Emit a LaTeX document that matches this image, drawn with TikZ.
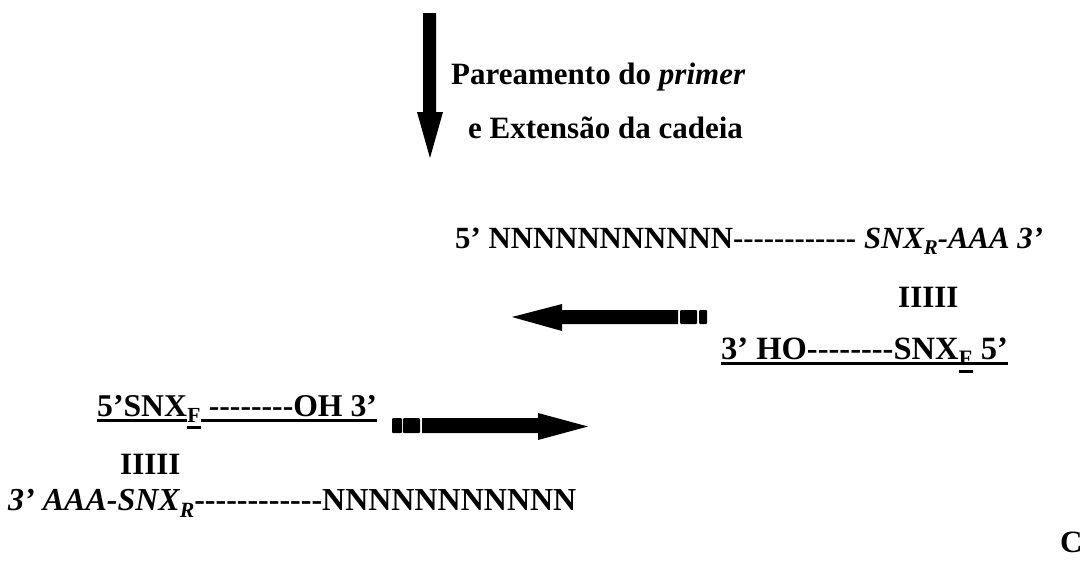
\documentclass[tikz,border=0pt]{standalone}
\usepackage{fontspec}
\setmainfont{Liberation Serif}[Ligatures=TeXOff]
\usepackage{graphicx}
% lowered, reduced-size index letter
\newcommand\dsub[1]{\raisebox{-0.22em}{\scalebox{0.68}{#1}}}
\tikzset{
  dna/.style={inner sep=0pt, anchor=base west, font=\fontsize{#1}{#1}\selectfont\bfseries},
  dna/.default=31,
  ul/.style={line width=3pt},
  ink/.style={fill=black, draw=none}
}
\begin{document}
\begin{tikzpicture}[x=1pt, y=-1pt]
\useasboundingbox (0,0) rectangle (1082,563);

% downward block arrow
\fill[ink] (423,13) -- (436,13) -- (436,112) -- (443,112) -- (430,158)
  -- (417,112) -- (423,112) -- cycle;
\node[dna=31] (t1) at (451,84) {Pareamento do \textit{primer}};
\node[dna=31] (t2) at (468,138) {e Extensão da cadeia};

% upper template strand
\node[dna=30.8] (top) at (455,248) {5’ NNNNNNNNNNN------------ \textit{SNX\dsub{R}-AAA 3’}};
\node[dna=31] (pr) at (898,307) {IIIII};

% reverse primer, extended leftwards
\node[dna=32.5] (ho1) at (721,359) {3’ HO--------SNX};
\node[dna=22] (hoF) at ([yshift=-6pt]ho1.base east) {F};
\node[dna=32.5] (ho2) at (hoF.base east |- ho1.base) {\ 5’};
\draw[ul] ([yshift=-4pt]ho1.base west) -- ([yshift=-4pt]ho2.base east);
\draw[ul] ([yshift=-6pt]hoF.base west) -- ([yshift=-6pt]hoF.base east);

\fill[ink] (512,317) -- (562,304) -- (562,310) -- (678,310) -- (678,324)
  -- (562,324) -- (562,331) -- cycle;
\fill[ink, rounded corners=1pt] (680,310) rectangle (697,324);
\fill[ink, rounded corners=1pt] (699,310) rectangle (707,324);

% forward primer, extended rightwards
\node[dna=31.7] (oh1) at (97,416) {5’SNX};
\node[dna=21.5] (ohF) at ([yshift=-6pt]oh1.base east) {F};
\node[dna=31.7] (oh2) at (ohF.base east |- oh1.base) {\ --------OH 3’};
\draw[ul] ([yshift=-4pt]oh1.base west) -- ([yshift=-4pt]oh1.base east);
\draw[ul] ([yshift=-5pt]ohF.base west) -- ([yshift=-5pt]ohF.base east);
\draw[ul] ([yshift=-4pt]oh2.base west) -- ([yshift=-4pt]oh2.base east);

\fill[ink, rounded corners=1pt] (392,418) rectangle (402,433);
\fill[ink, rounded corners=1pt] (403,418) rectangle (420,433);
\fill[ink] (422,418) -- (538,418) -- (538,413) -- (588,426.5) -- (538,440)
  -- (538,433) -- (422,433) -- cycle;

% lower template strand
\node[dna=31] (pl) at (120,474) {IIIII};
\node[dna=32] (bot) at (8,510) {\textit{3’ AAA-SNX\dsub{R}}------------NNNNNNNNNNN};

\node[dna=31] (c) at (1060,552) {C};
\end{tikzpicture}
\end{document}
